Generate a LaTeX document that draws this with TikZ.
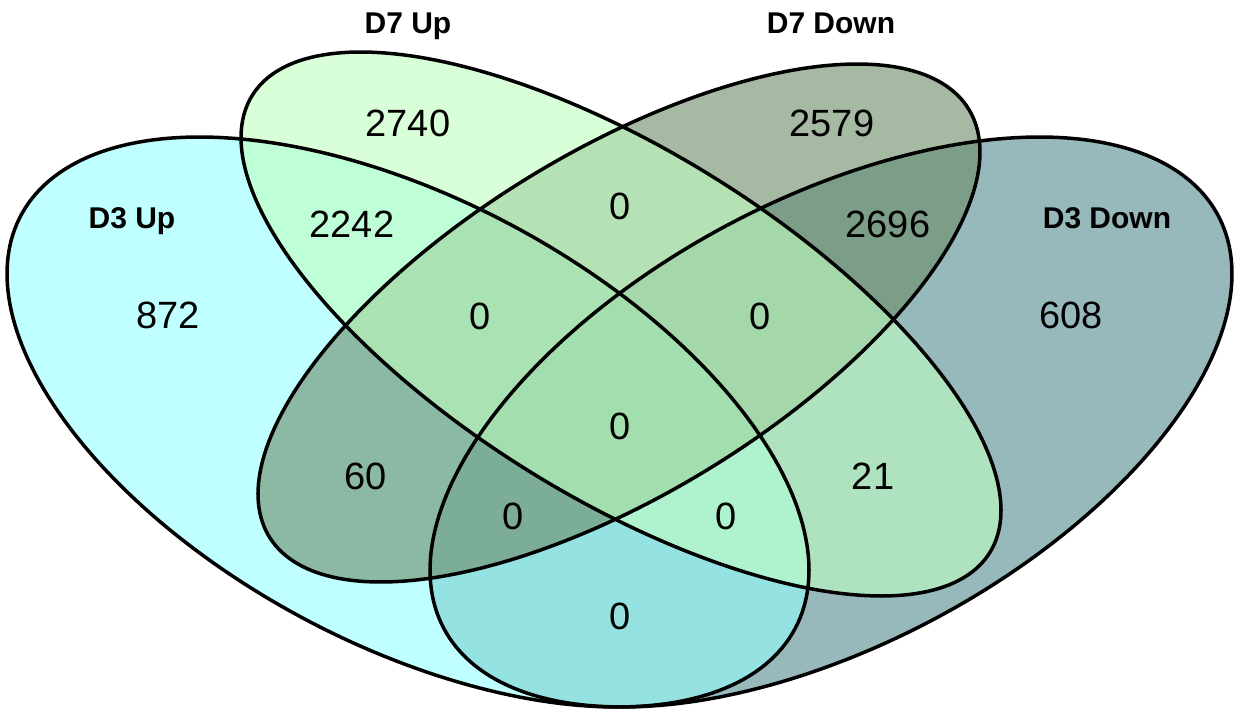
\documentclass[tikz,border=0pt]{standalone}
\usepackage{fontspec}
\setmainfont{Liberation Sans}
\definecolor{cUpThree}{RGB}{148,255,255}
\definecolor{cUpSeven}{RGB}{192,255,192}
\definecolor{cDownSeven}{RGB}{107,138,102}
\definecolor{cDownThree}{RGB}{82,138,142}
\tikzset{
  setfill/.style={fill=#1, fill opacity=0.6, draw=none},
  setline/.style={draw=black, line width=3.5pt, fill=none},
  num/.style={font=\fontsize{38}{40}\selectfont, inner sep=0pt, anchor=base},
  setlabel/.style={font=\fontsize{30}{32}\selectfont\bfseries, inner sep=0pt, anchor=base},
}
% ellipse paths: #1 cx, #2 cy, #3 W, #4 H, #5 phi, #6 sign (+1 left-tilt, -1 right-tilt)
\newcommand{\vennpath}[6]{plot[domain=0:360, samples=240, variable=\t] ({#1 + (#6)*(#3)*cos(\t)}, {#2 + (#4)*cos(\t - #5)}) -- cycle}
\begin{document}
\begin{tikzpicture}[x=1pt, y=-1pt]
\useasboundingbox (0,0) rectangle (1234,712);
% fills (order: D3 Down, D3 Up, D7 Down, D7 Up)
\fill[setfill=cDownThree] \vennpath{831}{422}{401}{285}{58.67}{-1};
\fill[setfill=cUpThree] \vennpath{408}{422}{401}{285}{58.67}{1};
\fill[setfill=cDownSeven] \vennpath{619}{323}{361}{259}{48.7}{-1};
\fill[setfill=cUpSeven] \vennpath{621}{324}{380}{272}{46.76}{1};
% outlines
\draw[setline] \vennpath{831}{422}{401}{285}{58.67}{-1};
\draw[setline] \vennpath{408}{422}{401}{285}{58.67}{1};
\draw[setline] \vennpath{619}{323}{361}{259}{48.7}{-1};
\draw[setline] \vennpath{621}{324}{380}{272}{46.76}{1};
% set labels
\node[setlabel] (lD7U) at (408,33) {D7 Up};
\node[setlabel] (lD7D) at (831,33) {D7 Down};
\node[setlabel] (lD3U) at (132,228) {D3 Up};
\node[setlabel] (lD3D) at (1107,228) {D3 Down};
% counts
\node[num] (n1) at (408,136) {2740};
\node[num] (n2) at (832,136) {2579};
\node[num] (n3) at (620,219) {0};
\node[num] (n4) at (352,237) {2242};
\node[num] (n5) at (888,237) {2696};
\node[num] (n6) at (168,328) {872};
\node[num] (n7) at (480,329) {0};
\node[num] (n8) at (760,329) {0};
\node[num] (n9) at (1071,328) {608};
\node[num] (n10) at (620,439) {0};
\node[num] (n11) at (366,489) {60};
\node[num] (n12) at (873,489) {21};
\node[num] (n13) at (513,529) {0};
\node[num] (n14) at (726,529) {0};
\node[num] (n15) at (620,629) {0};
\end{tikzpicture}
\end{document}
